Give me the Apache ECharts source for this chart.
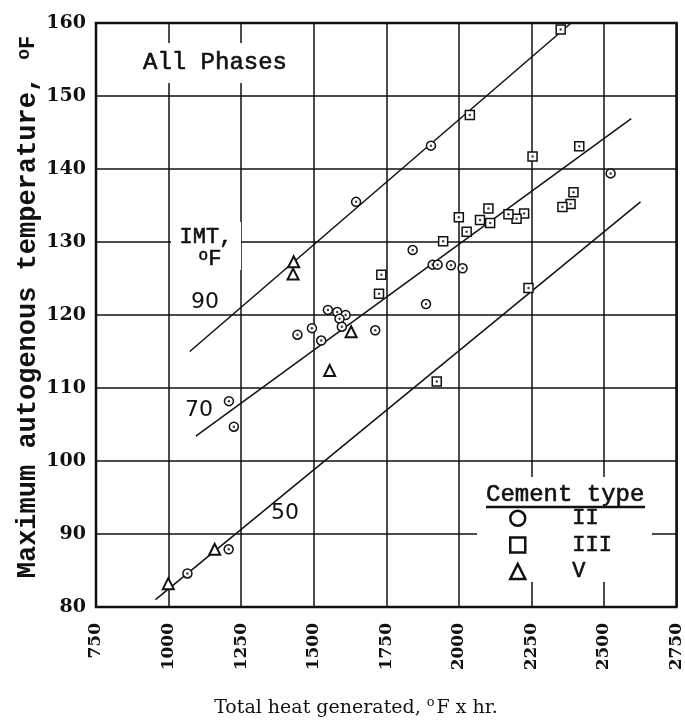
<!DOCTYPE html>
<html>
<head>
<meta charset="utf-8">
<script src="https://cdn.jsdelivr.net/npm/echarts@6/dist/echarts.min.js"></script>
<style>
  html, body { margin: 0; padding: 0; background: #fff; }
  #chart { width: 685px; height: 727px; }
</style>
</head>
<body>
<div id="chart"></div>
<script>
// Axis ranges and ticks
const xTicks = [750, 1000, 1250, 1500, 1750, 2000, 2250, 2500, 2750];
const yTicks = [80, 90, 100, 110, 120, 130, 140, 150, 160];

// Total heat generated (°F x hr) vs maximum autogenous temperature (°F)
const typeII = [
  [1646, 135.5], [1904, 143.2], [2523, 139.4], [1841, 128.9], [1910, 126.9],
  [1927, 126.9], [1973, 126.8], [2013, 126.4], [1887, 121.5], [1712, 117.9],
  [1549, 120.7], [1581, 120.4], [1610, 120.0], [1589, 119.5], [1597, 118.4],
  [1494, 118.2], [1444, 117.3], [1526, 116.5], [1208, 108.2], [1225, 104.7],
  [1207, 87.9], [1065, 84.6]
];
const typeIII = [
  [2351, 159.1], [2038, 147.4], [2415, 143.1], [2254, 141.7], [2395, 136.8],
  [2385, 135.2], [2357, 134.8], [2225, 133.9], [2199, 133.2], [2171, 133.8],
  [2102, 134.6], [2073, 133.0], [2108, 132.6], [2000, 133.4], [2027, 131.4],
  [1946, 130.1], [1733, 125.5], [1725, 122.9], [2240, 123.7], [1924, 110.9]
];
const typeV = [
  [1431, 127.3], [1429, 125.6], [1629, 117.7], [1555, 112.4], [1159, 87.9], [999, 83.2]
];

// Fitted lines for each initial mix temperature (IMT, °F)
const imt90 = [[1073, 115.0], [2387, 160.0]];
const imt70 = [[1094, 103.4], [2594, 146.9]];
const imt50 = [[955, 81.0], [2626, 135.5]];

const INK = '#111';
const MONO = '"Liberation Mono", "DejaVu Sans Mono", monospace';
const SERIF = '"DejaVu Serif", "Liberation Serif", serif';
const HAND = '"DejaVu Sans", "Liberation Sans", sans-serif';

const chart = echarts.init(document.getElementById('chart'));

function fitLine(name, data) {
  return {
    name: name, type: 'line', data: data, showSymbol: false, silent: true,
    lineStyle: { color: INK, width: 1.5 }, z: 2
  };
}

// typewriter text, thickened slightly with a thin outline
function typed(x, y, text, size, align) {
  return {
    type: 'text', z: 3, x: x, y: y,
    style: {
      text: text, font: size + 'px ' + MONO, fill: INK, stroke: INK, lineWidth: 0.6,
      align: align || 'center', verticalAlign: 'middle'
    }
  };
}

function hand(x, y, text) {
  return {
    type: 'text', z: 3, x: x, y: y,
    style: { text: text, font: '22px ' + HAND, fill: INK, align: 'center', verticalAlign: 'middle' }
  };
}

chart.setOption({
  animation: false,
  backgroundColor: '#fff',
  grid: {
    left: 96, right: 7, top: 23, bottom: 120,
    show: true, borderColor: INK, borderWidth: 2.5, backgroundColor: 'transparent'
  },
  xAxis: {
    type: 'value', min: xTicks[0], max: xTicks[xTicks.length - 1], interval: 250,
    axisLine: { show: false }, axisTick: { show: false },
    splitLine: { show: true, lineStyle: { color: INK, width: 1.5 } },
    axisLabel: {
      rotate: 90, margin: 16, color: INK,
      fontFamily: SERIF, fontWeight: 'bold', fontSize: 17,
      formatter: function (v) { return String(v); }
    }
  },
  yAxis: {
    type: 'value', min: yTicks[0], max: yTicks[yTicks.length - 1], interval: 10,
    axisLine: { show: false }, axisTick: { show: false },
    splitLine: { show: true, lineStyle: { color: INK, width: 1.5 } },
    axisLabel: {
      margin: 10, color: INK,
      fontFamily: SERIF, fontWeight: 'bold', fontSize: 19,
      formatter: function (v) { return String(v); }
    }
  },
  legend: {
    orient: 'vertical', left: 509, top: 507, padding: 0,
    itemGap: 4, itemWidth: 15, itemHeight: 15, selectedMode: false,
    data: [
      { name: 'II', icon: 'circle' },
      { name: 'III', icon: 'rect' },
      { name: 'V', icon: 'triangle' }
    ],
    itemStyle: { color: '#fff', borderColor: INK, borderWidth: 2.5 },
    textStyle: {
      fontFamily: MONO, fontSize: 22, color: INK, lineHeight: 22,
      textBorderColor: INK, textBorderWidth: 0.6,
      padding: [0, 0, 0, 42]
    },
    z: 5
  },
  graphic: [
    // white patches that keep the grid lines away from the annotations
    { type: 'rect', z: 1, shape: { x: 138, y: 43, width: 154, height: 40 }, style: { fill: '#fff' } },
    { type: 'rect', z: 1, shape: { x: 171, y: 222, width: 70, height: 48 }, style: { fill: '#fff' } },
    { type: 'rect', z: 1, shape: { x: 477, y: 477, width: 175, height: 105 }, style: { fill: '#fff' } },

    typed(215, 63, 'All Phases', 24),
    typed(206, 237, 'IMT,', 22),
    { type: 'text', z: 3, x: 210, y: 259,
      style: {
        text: '{s|o}{b|F}', fill: INK, align: 'center', verticalAlign: 'middle',
        rich: {
          s: { fontFamily: MONO, fontSize: 16, fill: INK, stroke: INK, lineWidth: 0.6, padding: [0, 0, 7, 0] },
          b: { fontFamily: MONO, fontSize: 22, fill: INK, stroke: INK, lineWidth: 0.6 }
        }
      } },

    hand(205, 302, '90'),
    hand(199, 410, '70'),
    hand(285, 513, '50'),

    typed(486, 495, 'Cement type', 24, 'left'),
    { type: 'line', z: 3, shape: { x1: 486, y1: 507, x2: 645, y2: 507 }, style: { stroke: INK, lineWidth: 2.5 } },

    { type: 'text', z: 3, x: 356, y: 708,
      style: {
        text: 'Total heat generated, {s|o}F x hr.', fill: INK, align: 'center', verticalAlign: 'middle',
        font: '19px ' + SERIF,
        rich: { s: { fontFamily: SERIF, fontSize: 13, fill: INK, padding: [0, 2, 10, 0] } }
      } },

    { type: 'text', z: 3, x: 28, y: 307, rotation: Math.PI / 2,
      style: {
        text: 'Maximum autogenous temperature, {s|o}{b|F}', fill: INK, align: 'center', verticalAlign: 'middle',
        font: 'bold 27px ' + MONO,
        rich: {
          s: { fontFamily: MONO, fontWeight: 'bold', fontSize: 18, fill: INK, padding: [0, 0, 8, 0] },
          b: { fontFamily: MONO, fontWeight: 'bold', fontSize: 22, fill: INK }
        }
      } }
  ],
  series: [
    fitLine('IMT 90', imt90),
    fitLine('IMT 70', imt70),
    fitLine('IMT 50', imt50),
    {
      name: 'II', type: 'scatter', data: typeII, symbol: 'circle', symbolSize: 9,
      itemStyle: { color: '#fff', borderColor: INK, borderWidth: 1.5, opacity: 1 }, z: 3
    },
    {
      name: 'III', type: 'scatter', data: typeIII, symbol: 'rect', symbolSize: 9,
      itemStyle: { color: '#fff', borderColor: INK, borderWidth: 1.5, opacity: 1 }, z: 3
    },
    {
      name: 'V', type: 'scatter', data: typeV, symbol: 'triangle', symbolSize: 11,
      itemStyle: { color: '#fff', borderColor: INK, borderWidth: 2, opacity: 1 }, z: 3
    },
    {
      // centre dots of the circle and square markers
      name: 'centres', type: 'scatter', data: typeII.concat(typeIII), symbol: 'circle', symbolSize: 2.5,
      itemStyle: { color: INK }, z: 4, silent: true
    }
  ]
});
</script>
</body>
</html>
